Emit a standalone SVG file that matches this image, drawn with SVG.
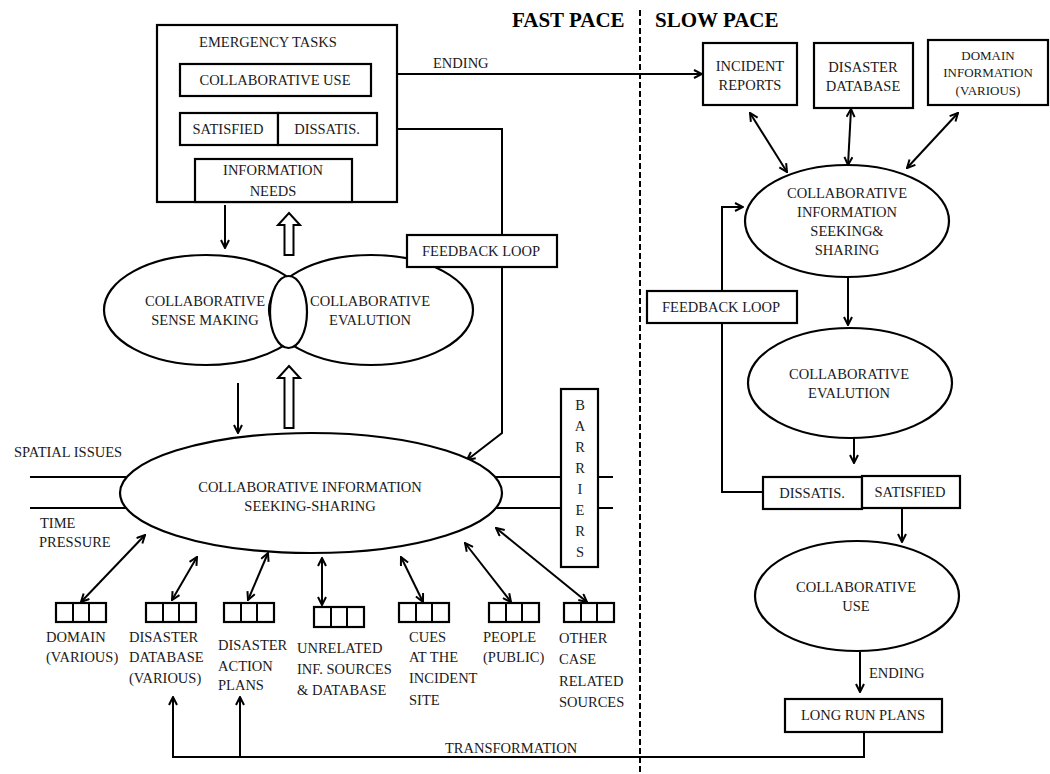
<svg xmlns="http://www.w3.org/2000/svg" width="1050" height="774" viewBox="0 0 1050 774">
<style>
text{font-family:"Liberation Serif","Times New Roman",serif;font-size:14.5px;fill:#1a1a1a}
.c{text-anchor:middle}
.s{font-size:13px}
.t{font-size:21px;font-weight:bold;fill:#000}
.b{fill:#fff;stroke:#000;stroke-width:2.2}
.l{fill:none;stroke:#000;stroke-width:2}
.a{fill:none;stroke:#000;stroke-width:2;marker-end:url(#ah)}
.d{fill:none;stroke:#000;stroke-width:2;marker-end:url(#ah);marker-start:url(#ah)}
</style>
<defs>
<marker id="ah" viewBox="0 0 10 10" refX="9" refY="5" markerWidth="10" markerHeight="10" markerUnits="userSpaceOnUse" orient="auto-start-reverse">
<path d="M1,1 L9,5 L1,9" fill="none" stroke="#000" stroke-width="2"/>
</marker>
</defs>
<rect width="1050" height="774" fill="#fff"/>

<g id="titles">
<text class="t" x="512" y="27">FAST PACE</text>
<text class="t" x="655" y="27">SLOW PACE</text>
<line x1="640" y1="10" x2="640" y2="774" stroke="#000" stroke-width="2" stroke-dasharray="6,3"/>
</g>

<g id="connectors">
<!-- spatial/time lines -->
<line class="l" x1="30" y1="477" x2="613" y2="477"/>
<line class="l" x1="30" y1="508" x2="613" y2="508"/>
<!-- ending top -->
<line class="a" x1="397" y1="74" x2="702" y2="74"/>
<!-- dissatis feedback left -->
<polyline class="a" points="377,129 502,129 502,433 467,460"/>
<!-- inside emergency box -->
<line class="a" x1="229" y1="159" x2="229" y2="146"/>
<line class="a" x1="323" y1="159" x2="323" y2="146"/>
<line class="a" x1="229" y1="113" x2="229" y2="97"/>
<!-- down arrows left -->
<line class="a" x1="225" y1="205" x2="225" y2="248"/>
<line class="a" x1="238" y1="383" x2="238" y2="433"/>
<!-- hollow arrows -->
<polygon points="289,213 300,225 293.5,225 293.5,255 284.5,255 284.5,225 278,225" fill="#fff" stroke="#000" stroke-width="2"/>
<polygon points="289,366 300,378 293.5,378 293.5,428 284.5,428 284.5,378 278,378" fill="#fff" stroke="#000" stroke-width="2"/>
<!-- source arrows -->
<line class="d" x1="145" y1="535" x2="81" y2="602"/>
<line class="d" x1="197" y1="557" x2="172" y2="600"/>
<line class="d" x1="268" y1="553" x2="248" y2="600"/>
<line class="d" x1="322" y1="558" x2="322" y2="605"/>
<line class="d" x1="401" y1="557" x2="423" y2="602"/>
<line class="d" x1="465" y1="543" x2="511" y2="602"/>
<line class="d" x1="496" y1="528" x2="587" y2="602"/>
<!-- transformation -->
<polyline class="a" points="864,732 864,757 173,757 173,697"/>
<line class="a" x1="240" y1="757" x2="240" y2="697"/>
<!-- right side -->
<line class="d" x1="750" y1="113" x2="787" y2="172"/>
<line class="d" x1="851" y1="109" x2="848" y2="165"/>
<line class="d" x1="958" y1="113" x2="907" y2="168"/>
<polyline class="a" points="763,492 722,492 722,207 743,207"/>
<line class="a" x1="848" y1="277" x2="848" y2="325"/>
<line class="a" x1="854" y1="437" x2="854" y2="463"/>
<line class="a" x1="902" y1="508" x2="902" y2="542"/>
<line class="a" x1="860" y1="652" x2="860" y2="692"/>
</g>

<g id="labels">
<text x="433" y="68">ENDING</text>
<text x="869" y="678">ENDING</text>
<text x="445" y="753">TRANSFORMATION</text>
<text x="14" y="457">SPATIAL ISSUES</text>
<text x="40" y="528">TIME</text>
<text x="39" y="547">PRESSURE</text>
</g>

<g id="emergency-tasks">
<rect class="b" x="157" y="25" width="240" height="177" stroke-width="2.5"/>
<text class="c" x="268" y="47">EMERGENCY  TASKS</text>
</g>
<g id="collab-use-top">
<rect class="b" x="180" y="64" width="191" height="32"/>
<text class="c" x="275" y="85">COLLABORATIVE  USE</text>
</g>
<g id="satisfied-top">
<rect class="b" x="180" y="113" width="98" height="32"/>
<text class="c" x="228" y="134">SATISFIED</text>
</g>
<g id="dissatis-top">
<rect class="b" x="278" y="113" width="99" height="32"/>
<text class="c" x="327" y="134">DISSATIS.</text>
</g>
<g id="info-needs">
<rect class="b" x="195" y="159" width="157" height="43"/>
<text class="c" x="273" y="175">INFORMATION</text>
<text class="c" x="273" y="196">NEEDS</text>
</g>

<g id="sense-eval">
<ellipse class="b" cx="206" cy="310" rx="102" ry="55"/>
<ellipse class="b" cx="371" cy="310" rx="102" ry="55"/>
<ellipse class="b" cx="288.5" cy="312" rx="18.5" ry="36"/>
<text class="c" x="205" y="306">COLLABORATIVE</text>
<text class="c" x="205" y="325">SENSE MAKING</text>
<text class="c" x="370" y="306">COLLABORATIVE</text>
<text class="c" x="370" y="325">EVALUTION</text>
</g>

<g id="feedback-left">
<rect class="b" x="407" y="235" width="150" height="32"/>
<text class="c" x="481" y="256">FEEDBACK LOOP</text>
</g>

<g id="cis-main">
<ellipse class="b" cx="311" cy="493" rx="191" ry="60"/>
<text class="c" x="310" y="492">COLLABORATIVE  INFORMATION</text>
<text class="c" x="310" y="511">SEEKING-SHARING</text>
</g>

<g id="barriers">
<rect class="b" x="561" y="389" width="37" height="178"/>
<text class="c" x="580" y="410">B</text>
<text class="c" x="580" y="431">A</text>
<text class="c" x="580" y="452">R</text>
<text class="c" x="580" y="473">R</text>
<text class="c" x="580" y="494">I</text>
<text class="c" x="580" y="515">E</text>
<text class="c" x="580" y="536">R</text>
<text class="c" x="580" y="557">S</text>
</g>

<g id="src-domain">
<rect class="b" x="56" y="603" width="50" height="19"/><line class="l" x1="73" y1="603" x2="73" y2="622"/><line class="l" x1="89" y1="603" x2="89" y2="622"/>
<text x="46" y="642">DOMAIN</text><text x="46" y="662">(VARIOUS)</text>
</g>
<g id="src-disaster-db">
<rect class="b" x="146" y="603" width="50" height="19"/><line class="l" x1="163" y1="603" x2="163" y2="622"/><line class="l" x1="179" y1="603" x2="179" y2="622"/>
<text x="129" y="642">DISASTER</text><text x="129" y="662">DATABASE</text><text x="129" y="683">(VARIOUS)</text>
</g>
<g id="src-action-plans">
<rect class="b" x="224" y="603" width="50" height="19"/><line class="l" x1="241" y1="603" x2="241" y2="622"/><line class="l" x1="257" y1="603" x2="257" y2="622"/>
<text x="218" y="650">DISASTER</text><text x="218" y="671">ACTION</text><text x="218" y="690">PLANS</text>
</g>
<g id="src-unrelated">
<rect class="b" x="314" y="607" width="50" height="20"/><line class="l" x1="331" y1="607" x2="331" y2="627"/><line class="l" x1="347" y1="607" x2="347" y2="627"/>
<text x="297" y="653">UNRELATED</text><text x="297" y="674">INF. SOURCES</text><text x="297" y="695">&amp; DATABASE</text>
</g>
<g id="src-cues">
<rect class="b" x="399" y="603" width="50" height="19"/><line class="l" x1="416" y1="603" x2="416" y2="622"/><line class="l" x1="432" y1="603" x2="432" y2="622"/>
<text x="409" y="642">CUES</text><text x="409" y="662">AT THE</text><text x="409" y="683">INCIDENT</text><text x="409" y="705">SITE</text>
</g>
<g id="src-people">
<rect class="b" x="489" y="603" width="50" height="19"/><line class="l" x1="506" y1="603" x2="506" y2="622"/><line class="l" x1="522" y1="603" x2="522" y2="622"/>
<text x="483" y="642">PEOPLE</text><text x="483" y="662">(PUBLIC)</text>
</g>
<g id="src-other">
<rect class="b" x="564" y="603" width="50" height="19"/><line class="l" x1="581" y1="603" x2="581" y2="622"/><line class="l" x1="597" y1="603" x2="597" y2="622"/>
<text x="559" y="643">OTHER</text><text x="559" y="664">CASE</text><text x="559" y="686">RELATED</text><text x="559" y="707">SOURCES</text>
</g>

<g id="incident-reports">
<rect class="b" x="703" y="43" width="94" height="62"/>
<text class="c" x="750" y="71">INCIDENT</text>
<text class="c" x="750" y="90">REPORTS</text>
</g>
<g id="disaster-database">
<rect class="b" x="814" y="43" width="99" height="65"/>
<text class="c" x="863" y="72">DISASTER</text>
<text class="c" x="863" y="91">DATABASE</text>
</g>
<g id="domain-info">
<rect class="b" x="928" y="40" width="120" height="65"/>
<text class="c s" x="988" y="60">DOMAIN</text>
<text class="c s" x="988" y="77">INFORMATION</text>
<text class="c s" x="988" y="95">(VARIOUS)</text>
</g>

<g id="cis-right">
<ellipse class="b" cx="847" cy="221" rx="102" ry="56"/>
<text class="c" x="847" y="198">COLLABORATIVE</text>
<text class="c" x="847" y="217">INFORMATION</text>
<text class="c" x="847" y="236">SEEKING&amp;</text>
<text class="c" x="847" y="255">SHARING</text>
</g>
<g id="feedback-right">
<rect class="b" x="647" y="291" width="150" height="32"/>
<text class="c" x="721" y="312">FEEDBACK LOOP</text>
</g>
<g id="eval-right">
<ellipse class="b" cx="850" cy="383" rx="102" ry="55"/>
<text class="c" x="849" y="379">COLLABORATIVE</text>
<text class="c" x="849" y="398">EVALUTION</text>
</g>
<g id="dissatis-right">
<rect class="b" x="763" y="477" width="99" height="32"/>
<text class="c" x="812" y="498">DISSATIS.</text>
</g>
<g id="satisfied-right">
<rect class="b" x="862" y="476" width="98" height="32"/>
<text class="c" x="910" y="497">SATISFIED</text>
</g>
<g id="use-right">
<ellipse class="b" cx="857" cy="596" rx="102" ry="55"/>
<text class="c" x="856" y="592">COLLABORATIVE</text>
<text class="c" x="856" y="611">USE</text>
</g>
<g id="long-run-plans">
<rect class="b" x="785" y="699" width="157" height="33"/>
<text class="c" x="863" y="720">LONG RUN PLANS</text>
</g>
</svg>
